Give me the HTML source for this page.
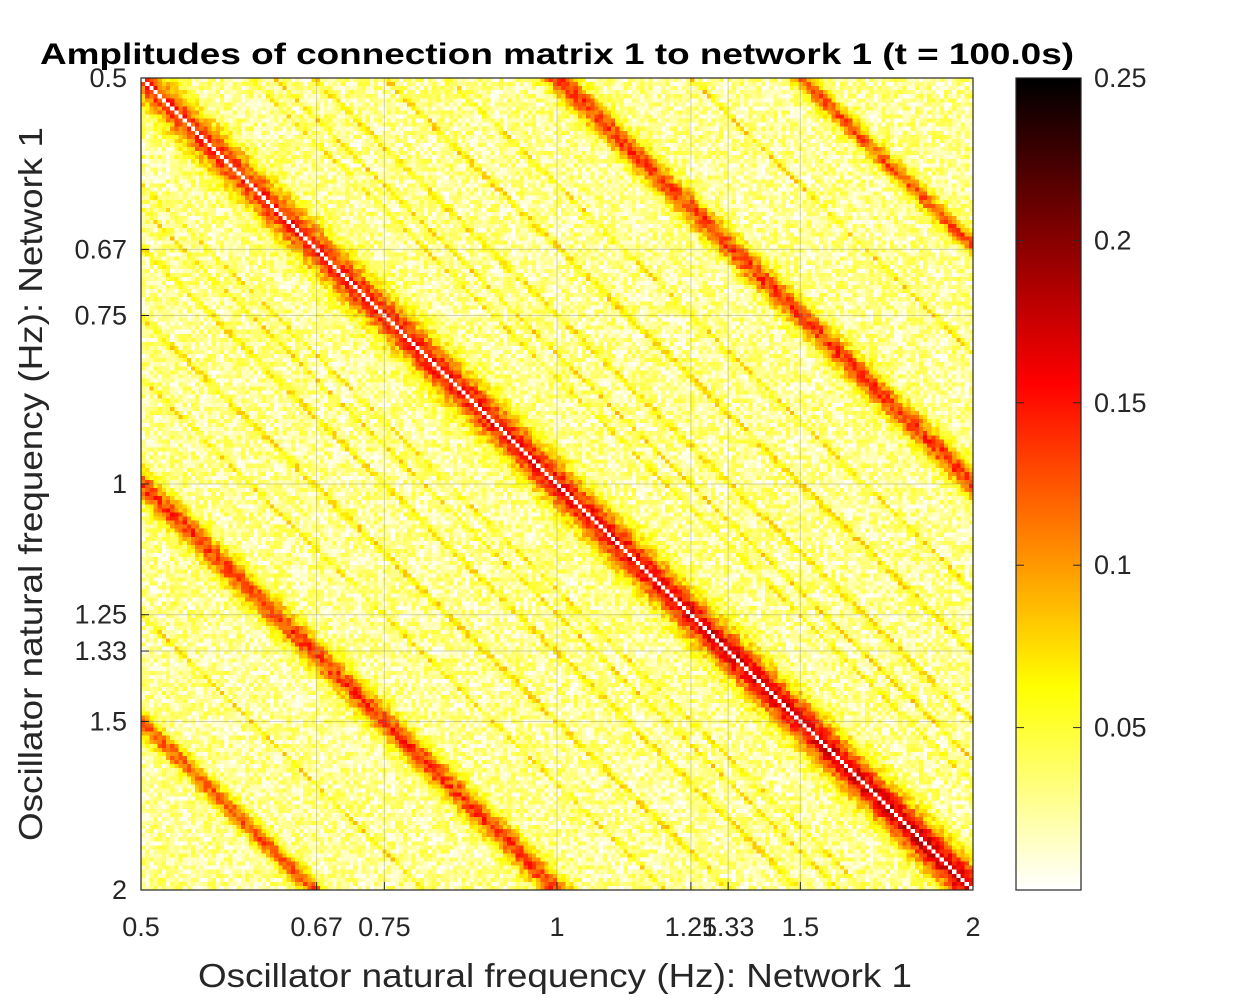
<!DOCTYPE html>
<html><head><meta charset="utf-8"><style>
body{margin:0;background:#fff;width:1250px;height:1001px;overflow:hidden;position:relative;font-family:"Liberation Sans",sans-serif}
canvas{position:absolute}
svg{position:absolute;left:0;top:0}
</style></head><body>
<canvas id="hm" width="200" height="200" style="left:141px;top:78px;width:832px;height:812px;image-rendering:pixelated"></canvas>
<canvas id="cb" width="1" height="256" style="left:1016px;top:78px;width:65px;height:812px"></canvas>
<svg width="1250" height="1001" id="ov"></svg>
<script>
// data
const tickVals=[0.5,0.67,0.75,1,1.25,1.33,1.5,2];
const tickLabels=["0.5","0.67","0.75","1","1.25","1.33","1.5","2"];
const ridgeRatios=[1,0.5,2,0.3333,3,1.5,0.6667,1.3333,0.75,1.25,0.8,1.6667,0.6,2.5,0.4,1.2,0.8333];
const ridgeAmpStart=[0.11,0.11,0.11,0.10,0.10,0.055,0.055,0.05,0.05,0.045,0.045,0.045,0.045,0.045,0.045,0.04,0.04];
const ridgeAmpEnd=[0.15,0.11,0.11,0.10,0.10,0.055,0.055,0.05,0.05,0.045,0.045,0.045,0.045,0.045,0.045,0.04,0.04];
const ridgeSigma=[0.045,0.03,0.03,0.022,0.022,0.006,0.006,0.006,0.006,0.005,0.005,0.005,0.005,0.005,0.005,0.005,0.005];
const baseLevel=[0.025];
const noiseLevel=[0.025];
const cbTicks=[0.05,0.1,0.15,0.2,0.25];
const cMax=0.25, N=200, fMin=0.5, fMax=2;

const X0=141,X1=973,Y0=78,Y1=890;
const xs=f=>X0+(Math.log2(f/fMin)/Math.log2(fMax/fMin))*(X1-X0);
const ys=f=>Y0+(Math.log2(f/fMin)/Math.log2(fMax/fMin))*(Y1-Y0);
const cy=v=>Y1-(v/cMax)*(Y1-Y0);
function hot(v){let s=1-Math.max(0,Math.min(1,v/cMax));
 const c=x=>Math.round(255*Math.max(0,Math.min(1,x)));
 return [c(s/0.375),c((s-0.375)/0.375),c((s-0.75)/0.25)];}
function hash(i,j){let h=(i*374761393+j*668265263)|0;h=(h^(h>>>13))*1274126177|0;return ((h^(h>>>16))>>>0)/4294967295;}
const ctx=document.getElementById('hm').getContext('2d');
const img=ctx.createImageData(N,N);
const L=Math.log2(fMax/fMin);
for(let r=0;r<N;r++)for(let c=0;c<N;c++){
 const lx=(c+0.5)/N*L, ly=(r+0.5)/N*L;
 let v=baseLevel[0]+(hash(r,c)-0.5)*2*noiseLevel[0];
 for(let k=0;k<ridgeRatios.length;k++){
  const d=ly-lx-Math.log2(ridgeRatios[k]);
  const p=(lx+ly)/(2*L);
  const a=ridgeAmpStart[k]+(ridgeAmpEnd[k]-ridgeAmpStart[k])*p;
  v+=a*Math.exp(-d*d/(2*ridgeSigma[k]*ridgeSigma[k]));
 }
 if(r===c)v=0;
 const col=hot(v),o=(r*N+c)*4;
 img.data[o]=col[0];img.data[o+1]=col[1];img.data[o+2]=col[2];img.data[o+3]=255;
}
ctx.putImageData(img,0,0);
const cctx=document.getElementById('cb').getContext('2d');
for(let i=0;i<256;i++){const col=hot((255-i)/255*cMax);cctx.fillStyle=`rgb(${col})`;cctx.fillRect(0,i,1,1);}
const svg=document.getElementById('ov');const NS='http://www.w3.org/2000/svg';
function el(t,a,txt){const e=document.createElementNS(NS,t);for(const k in a)e.setAttribute(k,a[k]);if(txt!=null)e.textContent=txt;svg.appendChild(e);return e;}
tickVals.forEach((f,i)=>{
 const x=xs(f),y=ys(f);
 let g=el('line',{x1:x,x2:x,y1:Y0,y2:Y1,stroke:'#777','stroke-opacity':0.35,'stroke-width':1});
 
 g=el('line',{x1:X0,x2:X1,y1:y,y2:y,stroke:'#777','stroke-opacity':0.35,'stroke-width':1});
 
 el('line',{x1:x,x2:x,y1:Y1,y2:Y1-8,stroke:'#262626'});
 el('line',{x1:X0,x2:X0+8,y1:y,y2:y,stroke:'#262626'});
 let t=el('text',{x:x,y:Y1+46,'text-anchor':'middle','font-size':27,fill:'#262626'},tickLabels[i]);
 
 t=el('text',{x:X0-14,y:y+9,'text-anchor':'end','font-size':27,fill:'#262626'},tickLabels[i]);
 
});
let ax=el('rect',{x:X0,y:Y0,width:X1-X0,height:Y1-Y0,fill:'none',stroke:'#262626','stroke-width':1.2});

let cbb=el('rect',{x:1016,y:Y0,width:65,height:Y1-Y0,fill:'none',stroke:'#262626','stroke-width':1.2});

cbTicks.forEach(v=>{const y=cy(v);
 el('line',{x1:1073,x2:1081,y1:y,y2:y,stroke:'#262626'});
 el('line',{x1:1016,x2:1024,y1:y,y2:y,stroke:'#262626'});
 const t=el('text',{x:1094,y:y+9,'font-size':27,fill:'#262626'},String(v));
 
});
let tt=el('text',{x:40,y:64,'font-size':30,'font-weight':'bold',fill:'#000',textLength:1034,lengthAdjust:'spacingAndGlyphs'},'Amplitudes of connection matrix 1 to network 1 (t = 100.0s)');

let xl=el('text',{x:198,y:987,'font-size':33,fill:'#262626',textLength:714,lengthAdjust:'spacingAndGlyphs'},'Oscillator natural frequency (Hz): Network 1');

let yl=el('text',{x:-357,y:0,'font-size':33,fill:'#262626',textLength:714,lengthAdjust:'spacingAndGlyphs',transform:'translate(42,484) rotate(-90)'},'Oscillator natural frequency (Hz): Network 1');

</script>
</body></html>
